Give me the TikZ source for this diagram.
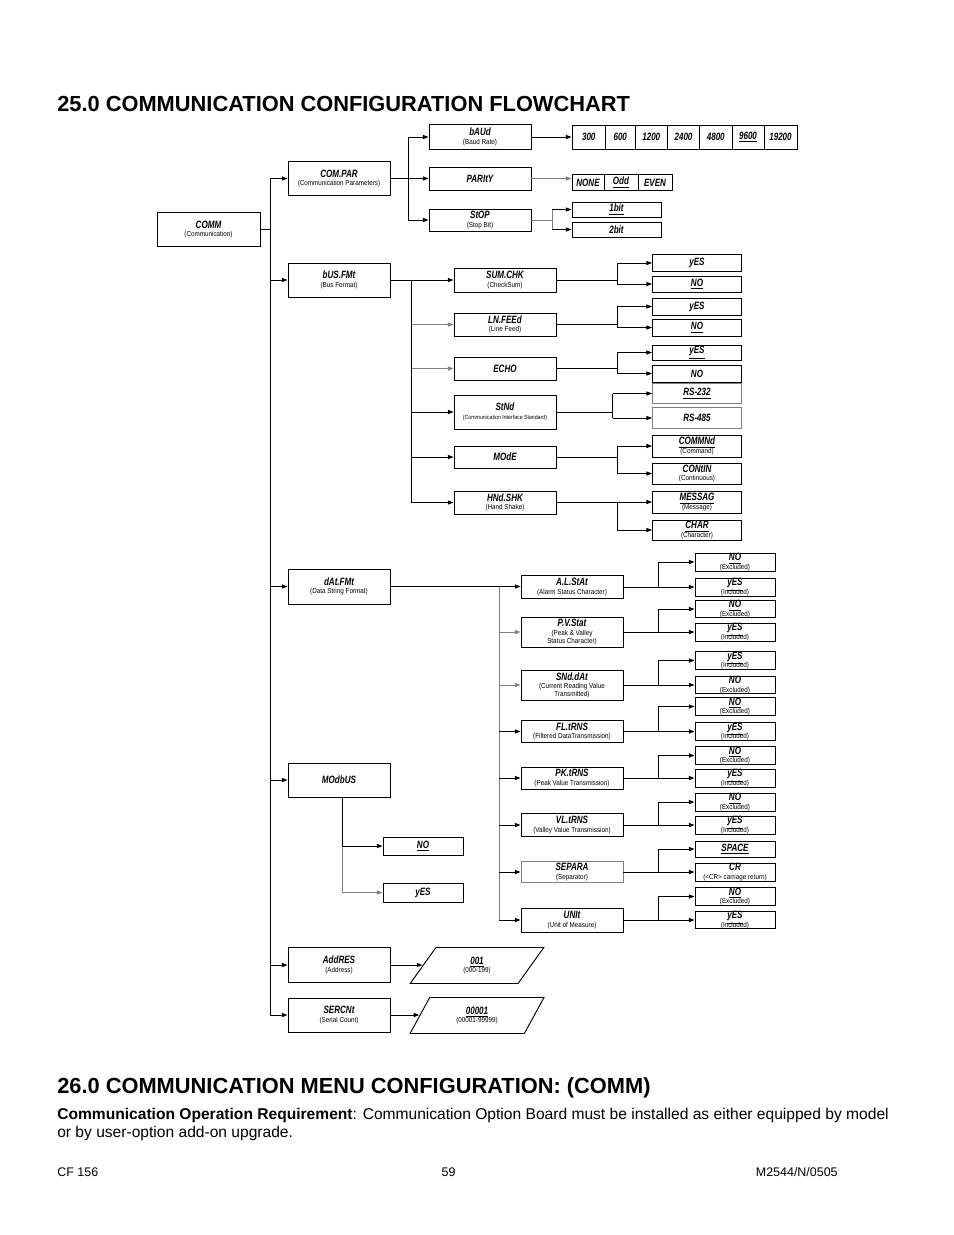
\documentclass[tikz,border=0pt]{standalone}
\usepackage{fontspec}
\setmainfont{Liberation Sans}
\newfontfamily\lblfont[FakeStretch=0.76]{Liberation Sans}
\newfontfamily\dscfont[FakeStretch=0.88]{Liberation Sans}
\usetikzlibrary{arrows.meta,shapes.geometric}
\newcommand{\lbl}[1]{{\lblfont\bfseries\itshape\fontsize{6.8}{7}\selectfont #1}}
\newcommand{\dsc}[1]{{\dscfont\fontsize{4.6}{5}\selectfont #1}}
\lineskiplimit=-20pt

\begin{document}
\begin{tikzpicture}[x=0.6415pt, y=-0.6415pt,
  box/.style 2 args={draw, line width=0.6pt, inner sep=0pt, align=center,
    minimum width=#1*0.6415pt, minimum height=#2*0.6415pt,
    font=\fontsize{5}{5.6}\selectfont},
  link/.style={line width=0.6pt},
  glink/.style={line width=0.6pt, gray},
  arr/.style={link, -{Triangle[length=3.6pt,width=2.6pt]}},
  garr/.style={glink, -{Triangle[length=3.6pt,width=2.6pt]}},
  para/.style={draw, line width=0.6pt, trapezium, trapezium left angle=64,
    trapezium right angle=116, trapezium stretches=true, inner sep=0pt,
    align=center, minimum width=134*0.6415pt, minimum height=36*0.6415pt,
    font=\fontsize{5}{5.6}\selectfont}]
  \useasboundingbox (0,0) rectangle (954,1235);

  % headings
  \node[anchor=base west, inner sep=0, font=\fontsize{14}{16}\selectfont\bfseries] (title) at (57,111) {25.0 COMMUNICATION CONFIGURATION FLOWCHART};
  \node[anchor=base west, inner sep=0, font=\fontsize{14}{16}\selectfont\bfseries] (menu) at (57,1093) {26.0 COMMUNICATION MENU CONFIGURATION: (COMM)};
  \node[anchor=base west, inner sep=0, font=\fontsize{10}{12}\selectfont] (req) at (57,1119) {\textbf{Communication Operation Requirement}: Communication Option Board must be installed as either equipped by model};
  \node[anchor=base west, inner sep=0, font=\fontsize{10}{12}\selectfont] (req2) at (57,1137) {or by user-option add-on upgrade.};
  \node[anchor=base west, inner sep=0, font=\fontsize{8}{9}\selectfont] (cf) at (57,1176) {CF 156};
  \node[anchor=base, inner sep=0, font=\fontsize{8}{9}\selectfont] (pg) at (448.5,1176) {59};
  \node[anchor=base east, inner sep=0, font=\fontsize{8}{9}\selectfont] (doc) at (838,1176) {M2544/N/0505};

  % main menu
  \node[box={103}{34}] (comm) at (208.5,229.5) {\lbl{COMM}\\\dsc{(Communication)}};
  \node[box={102}{34}] (compar) at (339,178.5) {\lbl{COM.PAR}\\\dsc{(Communication Parameters)}};
  \node[box={102}{34}] (busfmt) at (339,280) {\lbl{bUS.FMt}\\\dsc{(Bus Format)}};
  \node[box={102}{35}] (datfmt) at (339,586.5) {\lbl{dAt.FMt}\\\dsc{(Data String Format)}};
  \node[box={102}{34}] (modbus) at (339,780) {\lbl{MOdbUS}};
  \node[box={102}{35}] (addres) at (339,965) {\lbl{AddRES}\\\dsc{(Address)}};
  \node[box={102}{34}] (sercnt) at (339,1015) {\lbl{SERCNt}\\\dsc{(Serial Count)}};

  % COM.PAR
  \node[box={102}{25}] (baud) at (480,137) {\lbl{bAUd}\\\dsc{(Baud Rate)}};
  \node[box={102}{23}] (parity) at (480,178.5) {\lbl{PARItY}};
  \node[box={102}{22}] (stop) at (480,220) {\lbl{StOP}\\\dsc{(Stop Bit)}};
  \node[box={33.5}{24}] (b300) at (588.75,137) {\lbl{300}};
  \node[box={29.5}{24}] (b600) at (620.25,137) {\lbl{600}};
  \node[box={32.5}{24}] (b1200) at (651.25,137) {\lbl{1200}};
  \node[box={32}{24}] (b2400) at (683.5,137) {\lbl{2400}};
  \node[box={32.5}{24}] (b4800) at (715.75,137) {\lbl{4800}};
  \node[box={32}{24}] (b9600) at (748,137) {\lbl{\underline{9600}}};
  \node[box={33}{24}] (b19200) at (780.5,137) {\lbl{19200}};
  \node[box={32}{16}] (none) at (588,182.5) {\lbl{NONE}};
  \node[box={34}{16}] (odd) at (621,182.5) {\lbl{\underline{Odd}}};
  \node[box={34}{16}] (even) at (655,182.5) {\lbl{EVEN}};
  \node[box={89}{15}] (bit1) at (616.5,209.5) {\lbl{\underline{1bit}}};
  \node[box={89}{15}] (bit2) at (616.5,229.5) {\lbl{2bit}};

  % bUS.FMt
  \node[box={102}{24}] (sumchk) at (505,280) {\lbl{SUM.CHK}\\\dsc{(CheckSum)}};
  \node[box={102}{23}] (lnfeed) at (505,324.5) {\lbl{LN.FEEd}\\\dsc{(Line Feed)}};
  \node[box={102}{23}] (echo) at (505,368.5) {\lbl{ECHO}};
  \node[box={102}{34}] (stnd) at (505,412) {\lbl{StNd}\\{\dscfont\fontsize{3.8}{4}\selectfont (Communication Interface Standard)}};
  \node[box={102}{22}] (mode) at (505,457) {\lbl{MOdE}};
  \node[box={102}{23}] (hndshk) at (505,502.5) {\lbl{HNd.SHK}\\\dsc{(Hand Shake)}};
  \node[box={89}{17}] (ya) at (697,263) {\lbl{yES}};
  \node[box={89}{16}] (na) at (697,284) {\lbl{\underline{NO}}};
  \node[box={89}{17}] (yb) at (697,306.5) {\lbl{yES}};
  \node[box={89}{17}] (nb) at (697,327.5) {\lbl{\underline{NO}}};
  \node[box={89}{15}] (yc) at (697,352.5) {\lbl{\underline{yES}}};
  \node[box={89}{17}] (nc) at (697,373.5) {\lbl{NO}};
  \node[box={89}{20}, draw=gray] (rs232) at (697,393.5) {\lbl{\underline{RS-232}}};
  \node[box={89}{21}, draw=gray] (rs485) at (697,418) {\lbl{RS-485}};
  \node[box={89}{22}] (commnd) at (697,446) {\lbl{\underline{COMMNd}}\\\dsc{(Command)}};
  \node[box={89}{21}] (contin) at (697,473.5) {\lbl{CONtIN}\\\dsc{(Continuous)}};
  \node[box={89}{22}] (messag) at (697,502) {\lbl{\underline{MESSAG}}\\\dsc{(Message)}};
  \node[box={89}{20}] (chark) at (697,530) {\lbl{\underline{CHAR}}\\\dsc{(Character)}};

  % dAt.FMt
  \node[box={102}{23}] (alstat) at (572,587) {\lbl{A.L.StAt}\\\dsc{(Alarm Status Character)}};
  \node[box={102}{30}] (pvstat) at (572,632) {\lbl{P.V.Stat}\\\dsc{(Peak \& Valley}\\[-0.8pt]\dsc{Status Character)}};
  \node[box={102}{30}] (snddat) at (572,685) {\lbl{SNd.dAt}\\\dsc{(Current Reading Value}\\[-0.8pt]\dsc{Transmitted)}};
  \node[box={102}{22}] (fltrns) at (572,731.5) {\lbl{FL.tRNS}\\\dsc{(Filtered DataTransmission)}};
  \node[box={102}{22}] (pktrns) at (572,778) {\lbl{PK.tRNS}\\\dsc{(Peak Value Transmission)}};
  \node[box={102}{23}] (vltrns) at (572,825) {\lbl{VL.tRNS}\\\dsc{(Valley Value Transmission)}};
  \node[box={102}{21}, draw=gray] (separa) at (572,872) {\lbl{SEPARA}\\\dsc{(Separator)}};
  \node[box={102}{24}] (unit) at (572,920) {\lbl{UNIt}\\\dsc{(Unit of Measure)}};
  \node[box={80}{18}] (a1) at (735,562) {\lbl{\underline{NO}}\\\dsc{(Excluded)}};
  \node[box={80}{18}] (a2) at (735,587) {\lbl{\underline{yES}}\\\dsc{(Included)}};
  \node[box={80}{16}] (b1) at (735,609) {\lbl{\underline{NO}}\\\dsc{(Excluded)}};
  \node[box={80}{18}] (b2) at (735,632) {\lbl{\underline{yES}}\\\dsc{(Included)}};
  \node[box={80}{16}] (c1) at (735,660.5) {\lbl{\underline{yES}}\\\dsc{(Included)}};
  \node[box={80}{17}] (c2) at (735,685) {\lbl{NO}\\\dsc{(Excluded)}};
  \node[box={80}{17}] (d1) at (735,706.5) {\lbl{\underline{NO}}\\\dsc{(Excluded)}};
  \node[box={80}{18}] (d2) at (735,731.5) {\lbl{\underline{yES}}\\\dsc{(Included)}};
  \node[box={80}{17}] (e1) at (735,755.5) {\lbl{\underline{NO}}\\\dsc{(Excluded)}};
  \node[box={80}{18}] (e2) at (735,778) {\lbl{\underline{yES}}\\\dsc{(Included)}};
  \node[box={80}{18}] (f1) at (735,802) {\lbl{\underline{NO}}\\\dsc{(Excluded)}};
  \node[box={80}{18}] (f2) at (735,825) {\lbl{\underline{yES}}\\\dsc{(Included)}};
  \node[box={80}{16}] (g1) at (735,849) {\lbl{\underline{SPACE}}};
  \node[box={80}{18}] (g2) at (735,872) {\lbl{CR}\\\dsc{(<CR> carriage return)}};
  \node[box={80}{17}] (h1) at (735,896.5) {\lbl{\underline{NO}}\\\dsc{(Excluded)}};
  \node[box={80}{17}] (h2) at (735,920) {\lbl{\underline{yES}}\\\dsc{(Included)}};

  % MOdbUS, AddRES, SERCNt
  \node[box={80}{18}] (mno) at (423,846) {\lbl{\underline{NO}}};
  \node[box={80}{19}] (myes) at (423,892.5) {\lbl{yES}};
  \node[para] (addv) at (477,965.5) {\lbl{\underline{001}}\\\dsc{(000-199)}};
  \node[para] (serv) at (477,1015.5) {\lbl{\underline{00001}}\\\dsc{(00001-99999)}};

  % trunk from COMM
  \coordinate (tk) at (270,0);
  \draw[link] (comm.east) -- (comm.east -| tk);
  \draw[link] (tk |- compar) -- (tk |- sercnt);
  \draw[arr] (tk |- compar) -- (compar.west);
  \draw[arr] (tk |- busfmt) -- (busfmt.west);
  \draw[arr] (tk |- datfmt) -- (datfmt.west);
  \draw[arr] (tk |- modbus) -- (modbus.west);
  \draw[arr] (tk |- addres) -- (addres.west);
  \draw[arr] (tk |- sercnt) -- (sercnt.west);

  % COM.PAR branches
  \coordinate (cpk) at (408,0);
  \draw[link] (compar.east) -- (compar.east -| cpk);
  \draw[link] (cpk |- baud) -- (cpk |- stop);
  \draw[arr] (cpk |- baud) -- (baud.west);
  \draw[arr] (cpk |- parity) -- (parity.west);
  \draw[arr] (cpk |- stop) -- (stop.west);
  \draw[arr] (baud.east) -- (baud.east -| b300.west);
  \draw[garr] (parity.east) -- (parity.east -| none.west);
  \coordinate (spk) at (552,0);
  \draw[glink] (stop.east) -- (stop.east -| spk);
  \draw[glink] (spk |- bit1) -- (spk |- bit2);
  \draw[arr] (spk |- bit1) -- (bit1.west);
  \draw[arr] (spk |- bit2) -- (bit2.west);

  % bUS.FMt branches
  \coordinate (bsk) at (411.5,0);
  \draw[arr] (busfmt.east) -- (sumchk.west);
  \draw[link] (bsk |- busfmt) -- (bsk |- hndshk);
  \draw[garr] (bsk |- lnfeed) -- (lnfeed.west);
  \draw[garr] (bsk |- echo) -- (echo.west);
  \draw[arr] (bsk |- stnd) -- (stnd.west);
  \draw[arr] (bsk |- mode) -- (mode.west);
  \draw[arr] (bsk |- hndshk) -- (hndshk.west);

  % dAt.FMt branches
  \coordinate (dsk) at (499,0);
  \draw[arr] (datfmt.east) -- (datfmt.east -| alstat.west);
  \draw[glink] (dsk |- datfmt) -- (dsk |- unit);
  \draw[garr] (dsk |- pvstat) -- (pvstat.west);
  \draw[garr] (dsk |- snddat) -- (snddat.west);
  \draw[arr] (dsk |- fltrns) -- (fltrns.west);
  \draw[arr] (dsk |- pktrns) -- (pktrns.west);
  \draw[arr] (dsk |- vltrns) -- (vltrns.west);
  \draw[arr] (dsk |- separa) -- (separa.west);
  \draw[arr] (dsk |- unit) -- (unit.west);

  % two-way choices
  \foreach \p/\a/\b/\fx in {sumchk/ya/na/617, lnfeed/yb/nb/617, echo/yc/nc/617,
      stnd/rs232/rs485/612.5, mode/commnd/contin/617, hndshk/messag/chark/617,
      alstat/a1/a2/658, pvstat/b1/b2/658, snddat/c1/c2/658, fltrns/d1/d2/658,
      pktrns/e1/e2/658, vltrns/f1/f2/658, separa/g1/g2/658, unit/h1/h2/658}{
    \coordinate (fk) at (\fx,0);
    \draw[link] (\p.east) -- (\p.east -| fk);
    \draw[link] (fk |- \a) -- (fk |- \b);
    \draw[arr] (fk |- \a) -- (\a.west);
    \draw[arr] (fk |- \b) -- (\b.west);
  }

  % MOdbUS choices
  \coordinate (mbk) at (342,0);
  \draw[link] (mbk |- modbus.south) -- (mbk |- mno);
  \draw[glink] (mbk |- mno) -- (mbk |- myes);
  \draw[arr] (mbk |- mno) -- (mno.west);
  \draw[garr] (mbk |- myes) -- (myes.west);

  % values
  \draw[arr] (addres.east) -- (addres.east -| addv.west);
  \draw[arr] (sercnt.east) -- (sercnt.east -| serv.west);
\end{tikzpicture}
\end{document}
